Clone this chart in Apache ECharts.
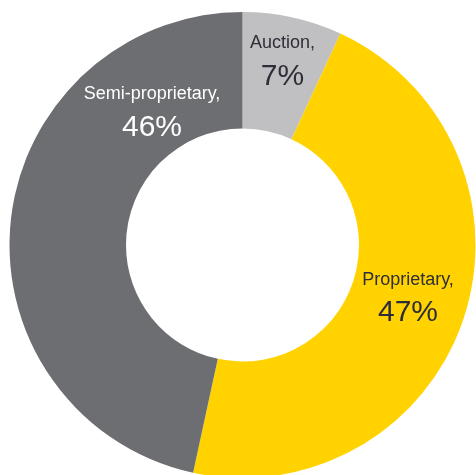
<!DOCTYPE html>
<html>
<head>
<meta charset="utf-8">
<style>html,body{margin:0;padding:0;background:#fff;}#c{width:476px;height:475px;}</style>
<script src="https://cdn.jsdelivr.net/npm/echarts@6/dist/echarts.min.js"></script>
</head>
<body>
<div id="c"></div>
<script>
const categories = ['Auction', 'Proprietary', 'Semi-proprietary'];
const values = [6.9, 46.5, 46.6];
const percentLabels = ['7%', '47%', '46%'];

const colors = ['#c0c0c2', '#ffd200', '#6d6e71'];
const textColors = ['#2e2e38', '#2e2e38', '#ffffff'];
const labelCenters = [[282.5, 63.5], [408, 300], [152, 114.5]];

const chart = echarts.init(document.getElementById('c'), null, {renderer: 'canvas'});
chart.setOption({
  animation: false,
  series: [{
    type: 'pie',
    center: [242.5, 245],
    radius: [116.5, 233],
    startAngle: 90,
    clockwise: true,
    avoidLabelOverlap: false,
    labelLine: {show: false},
    itemStyle: {borderWidth: 0},
    emphasis: {disabled: true},
    label: {
      show: true,
      position: 'inside',
      fontFamily: 'Liberation Sans',
      formatter: p => '{a|' + p.name + ',}\n{b|' + percentLabels[p.dataIndex] + '}'
    },
    labelLayout: p => ({
      x: labelCenters[p.dataIndex][0],
      y: labelCenters[p.dataIndex][1],
      align: 'center',
      verticalAlign: 'middle'
    }),
    data: categories.map((c, i) => ({
      name: c,
      value: values[i],
      itemStyle: {color: colors[i]},
      label: {
        rich: {
          a: {fontSize: 18, lineHeight: 26, color: textColors[i], fontFamily: 'Liberation Sans', align: 'center'},
          b: {fontSize: 30, lineHeight: 40, color: textColors[i], fontFamily: 'Liberation Sans', align: 'center'}
        }
      }
    }))
  }]
});
</script>
</body>
</html>
